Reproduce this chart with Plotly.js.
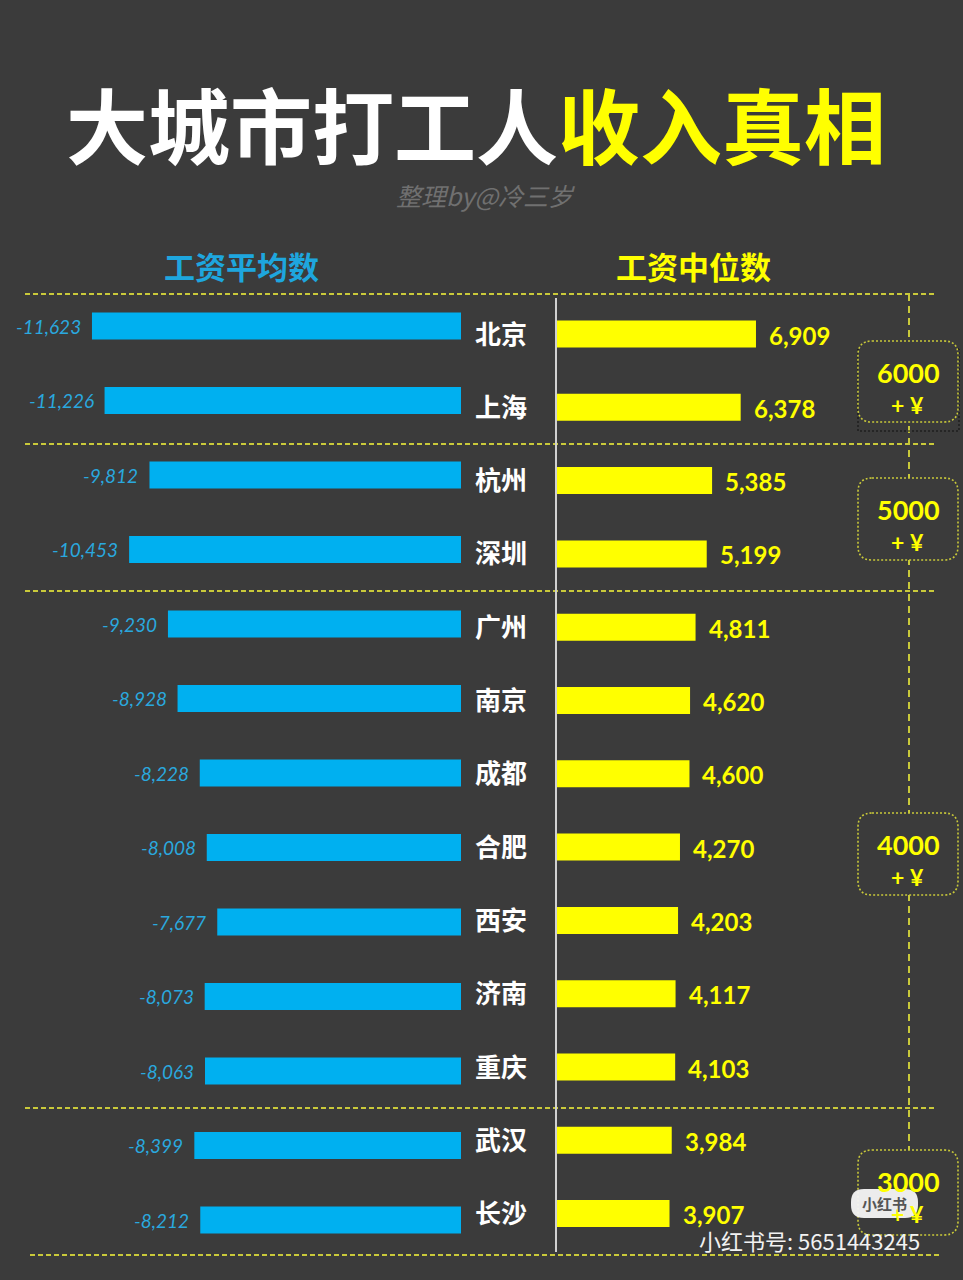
<!DOCTYPE html>
<html>
<head>
<meta charset="utf-8">
<script src="https://cdn.plot.ly/plotly-3.0.1.min.js"></script>
<style>
html,body{margin:0;padding:0;background:#3b3b3b;}
#chart{width:963px;height:1280px;}
</style>
</head>
<body>
<div id="chart"></div>
<script>
// ---- data ----
const cities = ['北京','上海','杭州','深圳','广州','南京','成都','合肥','西安','济南','重庆','武汉','长沙'];
const meanWage = [-11623,-11226,-9812,-10453,-9230,-8928,-8228,-8008,-7677,-8073,-8063,-8399,-8212];
const medianWage = [6909,6378,5385,5199,4811,4620,4600,4270,4203,4117,4103,3984,3907];
const tierLabels = ['6000','5000','4000','3000'];
const titleWhite = '大城市打工人';
const titleYellow = '收入真相';
const subtitle = '整理by@冷三岁';
const headerMean = '工资平均数';
const headerMedian = '工资中位数';
const watermark = '小红书号: 5651443245';

// ---- layout helpers ----
const W = 963, H = 1280;
const px = x => x / W;
const py = y => 1 - y / H;
const BG = '#3b3b3b';
const BLUE = '#00b0f0';
const YELLOW = '#ffff00';
const DASH = '#c9c93a';
const CJK = '"Noto Sans CJK SC", "Noto Sans", sans-serif';
const NUM = 'Lato, "Open Sans", sans-serif';

// left axis: zero at 461px, 0.03175 px/unit ; right axis: zero at 557px, 0.0288 px/unit
const leftZero = 461, leftScale = 0.03175;
const rightZero = 557, rightScale = 0.0288;
// rows: left first center 326 step 74.5; right first center 334 step 73.3
const lTop = 326, lStep = 74.5, rTop = 334, rStep = 73.3;

const traces = [
  {type:'bar', orientation:'h', x:meanWage, y:cities, xaxis:'x', yaxis:'y',
   marker:{color:BLUE}, width:0.365, hoverinfo:'skip'},
  {type:'bar', orientation:'h', x:medianWage, y:cities, xaxis:'x2', yaxis:'y2',
   marker:{color:YELLOW}, width:0.368, hoverinfo:'skip'}
];

const annotations = [];
// value labels
cities.forEach((c,i)=>{
  annotations.push({xref:'x', yref:'y', x:meanWage[i], y:c, xanchor:'right', yanchor:'middle',
    xshift:-9, showarrow:false, text:meanWage[i].toLocaleString('en-US'),
    font:{family:NUM, size:19, color:'#2aa8de', style:'italic'}});
  annotations.push({xref:'x2', yref:'y2', x:medianWage[i], y:c, xanchor:'left', yanchor:'middle',
    xshift:11, yshift:-1, showarrow:false, text:medianWage[i].toLocaleString('en-US'),
    font:{family:NUM, size:24, color:YELLOW, weight:'bold'}});
  annotations.push({xref:'paper', yref:'y2', x:px(501), y:c, xanchor:'center', yanchor:'middle',
    yshift:2, showarrow:false, text:'<b>'+c+'</b>',
    font:{family:CJK, size:26, color:'#ffffff'}});
});
// title
annotations.push({xref:'paper', yref:'paper', x:px(476), y:py(122), xanchor:'center', yanchor:'middle',
  showarrow:false,
  text:'<b><span style="color:#ffffff">'+titleWhite+'</span><span style="color:'+YELLOW+'">'+titleYellow+'</span></b>',
  font:{family:CJK, size:82, color:'#ffffff'}});
annotations.push({xref:'paper', yref:'paper', x:px(485), y:py(195), xanchor:'center', yanchor:'middle',
  showarrow:false, text:subtitle, font:{family:CJK, size:25, color:'#707070', style:'italic'}});
annotations.push({xref:'paper', yref:'paper', x:px(241), y:py(265), xanchor:'center', yanchor:'middle',
  showarrow:false, text:'<b>'+headerMean+'</b>', font:{family:CJK, size:31, color:'#1ea6de'}});
annotations.push({xref:'paper', yref:'paper', x:px(693), y:py(265), xanchor:'center', yanchor:'middle',
  showarrow:false, text:'<b>'+headerMedian+'</b>', font:{family:CJK, size:31, color:YELLOW}});

// shapes
const shapes = [];
// horizontal dashed group separators
[[294,25,937],[444,25,937],[591,25,937],[1108,25,937],[1255,30,940]].forEach(([y,x0,x1])=>{
  shapes.push({type:'line', xref:'paper', yref:'paper', x0:px(x0), x1:px(x1), y0:py(y), y1:py(y),
    line:{color:DASH, width:2, dash:'5px,3px'}, layer:'below'});
});
// centre axis line
shapes.push({type:'line', xref:'paper', yref:'paper', x0:px(556), x1:px(556), y0:py(298), y1:py(1252),
  line:{color:'#d0d0d0', width:2}});
// right vertical dashed line
shapes.push({type:'line', xref:'paper', yref:'paper', x0:px(909), x1:px(909), y0:py(294), y1:py(1192),
  line:{color:DASH, width:2, dash:'7px,5px'}});
// rounded boxes
function roundRect(x0,y0,x1,y1,r){
  const X=v=>px(v).toFixed(5), Y=v=>py(v).toFixed(5);
  return 'M'+X(x0+r)+','+Y(y0)+' L'+X(x1-r)+','+Y(y0)+' Q'+X(x1)+','+Y(y0)+' '+X(x1)+','+Y(y0+r)+
    ' L'+X(x1)+','+Y(y1-r)+' Q'+X(x1)+','+Y(y1)+' '+X(x1-r)+','+Y(y1)+
    ' L'+X(x0+r)+','+Y(y1)+' Q'+X(x0)+','+Y(y1)+' '+X(x0)+','+Y(y1-r)+
    ' L'+X(x0)+','+Y(y0+r)+' Q'+X(x0)+','+Y(y0)+' '+X(x0+r)+','+Y(y0)+' Z';
}
const boxes = [[341,422],[478,560],[813,895],[1150,1235]];
// black dotted selection artifact around first box
shapes.push({type:'rect', xref:'paper', yref:'paper', x0:px(858), x1:px(959), y0:py(349), y1:py(431),
  line:{color:'#111111', width:1, dash:'2px,2px'}});
boxes.forEach(([y0,y1],k)=>{
  shapes.push({type:'path', xref:'paper', yref:'paper', path:roundRect(858,y0,958,y1,14),
    fillcolor:BG, line:{color:DASH, width:1.6, dash:'2px,2px'}});
  annotations.push({xref:'paper', yref:'paper', x:px(908), y:py(y0+31), xanchor:'center', yanchor:'middle',
    showarrow:false, text:'<b>'+tierLabels[k]+'</b>', font:{family:NUM, size:27, color:YELLOW}});
  annotations.push({xref:'paper', yref:'paper', x:px(907), y:py(y0+64), xanchor:'center', yanchor:'middle',
    showarrow:false, text:'<b>+ ¥</b>', font:{family:NUM, size:23, color:YELLOW}});
});
// watermark badge
shapes.push({type:'path', xref:'paper', yref:'paper', path:roundRect(851,1189,918,1218,13),
  fillcolor:'rgba(245,245,245,0.95)', line:{width:0}});
annotations.push({xref:'paper', yref:'paper', x:px(884), y:py(1203), xanchor:'center', yanchor:'middle',
  showarrow:false, text:'<b>小红书</b>', font:{family:CJK, size:15, color:'#555555'}});
annotations.push({xref:'paper', yref:'paper', x:px(809), y:py(1240), xanchor:'center', yanchor:'middle',
  showarrow:false, text:watermark, font:{family:'"Noto Sans CJK SC", sans-serif', size:22, color:'#f2f2f2'}});

const layout = {
  width:W, height:H, margin:{l:0,r:0,t:0,b:0},
  paper_bgcolor:BG, plot_bgcolor:'rgba(0,0,0,0)',
  showlegend:false, barmode:'overlay',
  xaxis:{domain:[0, leftZero/W], range:[-leftZero/leftScale, 0], visible:false, fixedrange:true},
  xaxis2:{domain:[rightZero/W, 1], range:[0, (W-rightZero)/rightScale], visible:false, fixedrange:true},
  yaxis:{anchor:'x', type:'category', categoryorder:'array', categoryarray:cities,
    range:[(H-lTop)/lStep, -lTop/lStep], visible:false, fixedrange:true},
  yaxis2:{anchor:'x2', type:'category', categoryorder:'array', categoryarray:cities,
    range:[(H-rTop)/rStep, -rTop/rStep], visible:false, fixedrange:true},
  annotations:annotations, shapes:shapes
};
Plotly.newPlot('chart', traces, layout, {staticPlot:true, displayModeBar:false});
</script>
</body>
</html>
